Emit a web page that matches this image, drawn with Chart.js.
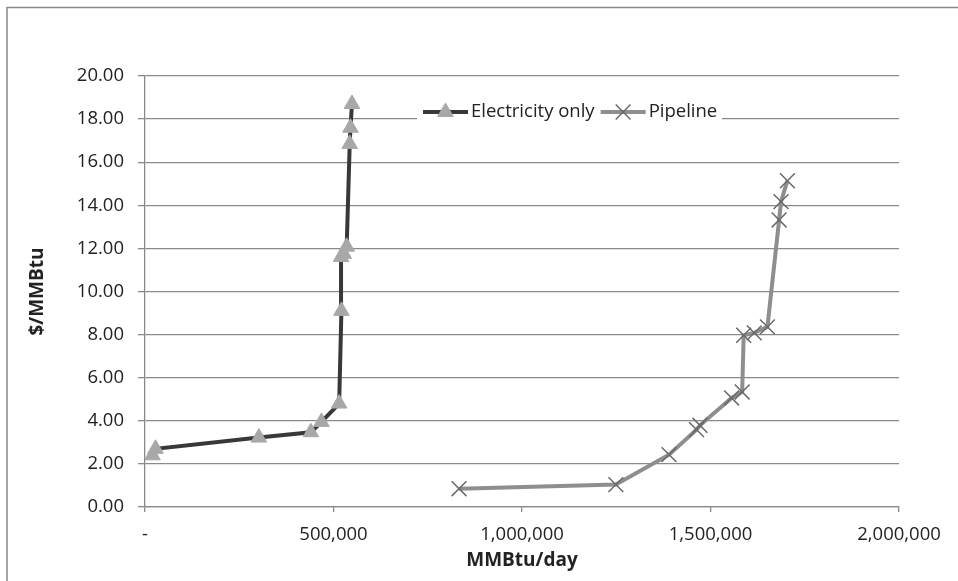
<!DOCTYPE html>
<html>
<head>
<meta charset="utf-8">
<script src="https://cdn.jsdelivr.net/npm/chart.js@4.4.0/dist/chart.umd.min.js"></script>
<style>
  html, body { margin: 0; padding: 0; background: #fff; }
  #wrap { width: 958px; height: 581px; position: relative; }
</style>
</head>
<body>
<div id="wrap"><canvas id="supply-chart"></canvas></div>
<script>
// Series labels
const seriesNames = ['Electricity only', 'Pipeline'];

// Electricity only (MMBtu/day, $/MMBtu)
const elecX = [20000, 28000, 302000, 440000, 468000, 515000, 521000, 520000, 527000, 535000, 543000, 545000, 549000];
const elecY = [2.40, 2.70, 3.22, 3.47, 3.95, 4.80, 9.10, 11.60, 11.75, 12.08, 16.85, 17.60, 18.70];

// Pipeline
const pipeX = [833000, 1249000, 1390000, 1463000, 1472000, 1556000, 1584000, 1588000, 1616000, 1651000, 1682000, 1687000, 1704000];
const pipeY = [0.85, 1.04, 2.43, 3.59, 3.79, 5.06, 5.34, 7.97, 8.08, 8.36, 13.32, 14.17, 15.14];

// Axis ticks
const xTicks = [0, 500000, 1000000, 1500000, 2000000];
const xTickLabels = ['-', '500,000', '1,000,000', '1,500,000', '2,000,000'];

function toPoints(xs, ys) {
  return xs.map(function(x, i) { return { x: x, y: ys[i] }; });
}

const gridColor = '#8a8a8a';
const fontFamily = "'Open Sans', 'DejaVu Sans', sans-serif";

// Outer frame like the spreadsheet chart border
const framePlugin = {
  id: 'frame',
  beforeDraw: function(chart) {
    const ctx = chart.ctx;
    ctx.save();
    ctx.fillStyle = '#fff';
    ctx.fillRect(0, 0, chart.width, chart.height);
    ctx.strokeStyle = '#888';
    ctx.lineWidth = 1.5;
    ctx.beginPath();
    ctx.moveTo(7, chart.height + 5);
    ctx.lineTo(7, 7.5);
    ctx.lineTo(chart.width + 5, 7.5);
    ctx.stroke();
    ctx.restore();
  }
};

// Legend drawn inside the plot, over the 18.00 grid line
const insideLegend = {
  id: 'insideLegend',
  afterDatasetsDraw: function(chart) {
    const ctx = chart.ctx;
    const cy = 112;
    ctx.save();
    ctx.fillStyle = '#fff';
    ctx.fillRect(417, 100, 305, 24);
    let x = 423;
    chart.data.datasets.forEach(function(ds) {
      ctx.strokeStyle = ds.borderColor;
      ctx.lineWidth = ds.borderWidth;
      ctx.beginPath();
      ctx.moveTo(x, cy);
      ctx.lineTo(x + 45, cy);
      ctx.stroke();
      ctx.fillStyle = ds.pointBackgroundColor;
      ctx.strokeStyle = ds.pointBorderColor;
      ctx.lineWidth = ds.pointBorderWidth;
      Chart.helpers.drawPoint(ctx, {
        pointStyle: ds.pointStyle,
        radius: ds.pointRadius,
        borderWidth: ds.pointBorderWidth,
        rotation: 0
      }, x + 22.5, cy);
      ctx.font = '18.5px ' + fontFamily;
      ctx.textBaseline = 'middle';
      ctx.textAlign = 'left';
      ctx.fillStyle = '#222';
      ctx.fillText(ds.label, x + 48, cy);
      x += 48 + ctx.measureText(ds.label).width + 6;
    });
    ctx.restore();
  }
};

function initChart() {
  const ctx = document.getElementById('supply-chart').getContext('2d');
  new Chart(ctx, {
    type: 'line',
    data: {
      datasets: [{
        label: seriesNames[0],
        data: toPoints(elecX, elecY),
        borderColor: '#383838',
        borderWidth: 4,
        tension: 0,
        pointStyle: 'triangle',
        pointRadius: 9,
        pointBackgroundColor: '#a8a8a8',
        pointBorderColor: '#a8a8a8',
        pointBorderWidth: 1
      }, {
        label: seriesNames[1],
        data: toPoints(pipeX, pipeY),
        borderColor: '#8e8e8e',
        borderWidth: 4,
        tension: 0,
        pointStyle: 'crossRot',
        pointRadius: 10.5,
        pointBackgroundColor: '#6a6a6a',
        pointBorderColor: '#6a6a6a',
        pointBorderWidth: 1.5
      }]
    },
    options: {
      responsive: false,
      animation: false,
      layout: { padding: { left: 0, top: 76, right: 59, bottom: 0 } },
      plugins: {
        legend: { display: false },
        tooltip: { enabled: false }
      },
      scales: {
        x: {
          type: 'linear',
          min: 0,
          max: 2000000,
          afterFit: function(scale) { scale.height = 74; },
          afterBuildTicks: function(scale) {
            scale.ticks = xTicks.map(function(v) { return { value: v }; });
          },
          ticks: {
            padding: 12,
            color: '#222',
            font: { family: fontFamily, size: 18.5 },
            maxRotation: 0,
            callback: function(value) {
              const i = xTicks.indexOf(value);
              return i >= 0 ? xTickLabels[i] : '';
            }
          },
          grid: { drawOnChartArea: false, drawTicks: true, tickLength: 5, color: gridColor, lineWidth: 1.3 },
          border: { display: true, color: gridColor, width: 1.3 },
          title: {
            display: true,
            text: 'MMBtu/day',
            color: '#222',
            font: { family: fontFamily, size: 19, weight: 'bold' },
            padding: { top: 0, bottom: 9 }
          }
        },
        y: {
          type: 'linear',
          min: 0,
          max: 20,
          afterFit: function(scale) { scale.width = 145; },
          ticks: {
            stepSize: 2,
            padding: 14,
            color: '#222',
            font: { family: fontFamily, size: 18.5 },
            callback: function(value) { return value.toFixed(2); }
          },
          grid: { color: gridColor, lineWidth: 1.3, tickLength: 7 },
          border: { display: true, color: gridColor, width: 1.3 },
          title: {
            display: true,
            text: '$/MMBtu',
            color: '#222',
            font: { family: fontFamily, size: 19, weight: 'bold' },
            padding: { top: 26, bottom: 0 }
          }
        }
      }
    },
    plugins: [framePlugin, insideLegend]
  });
}

const cv = document.getElementById('supply-chart');
cv.width = 958;
cv.height = 581;
window.onload = initChart;
</script>
</body>
</html>
